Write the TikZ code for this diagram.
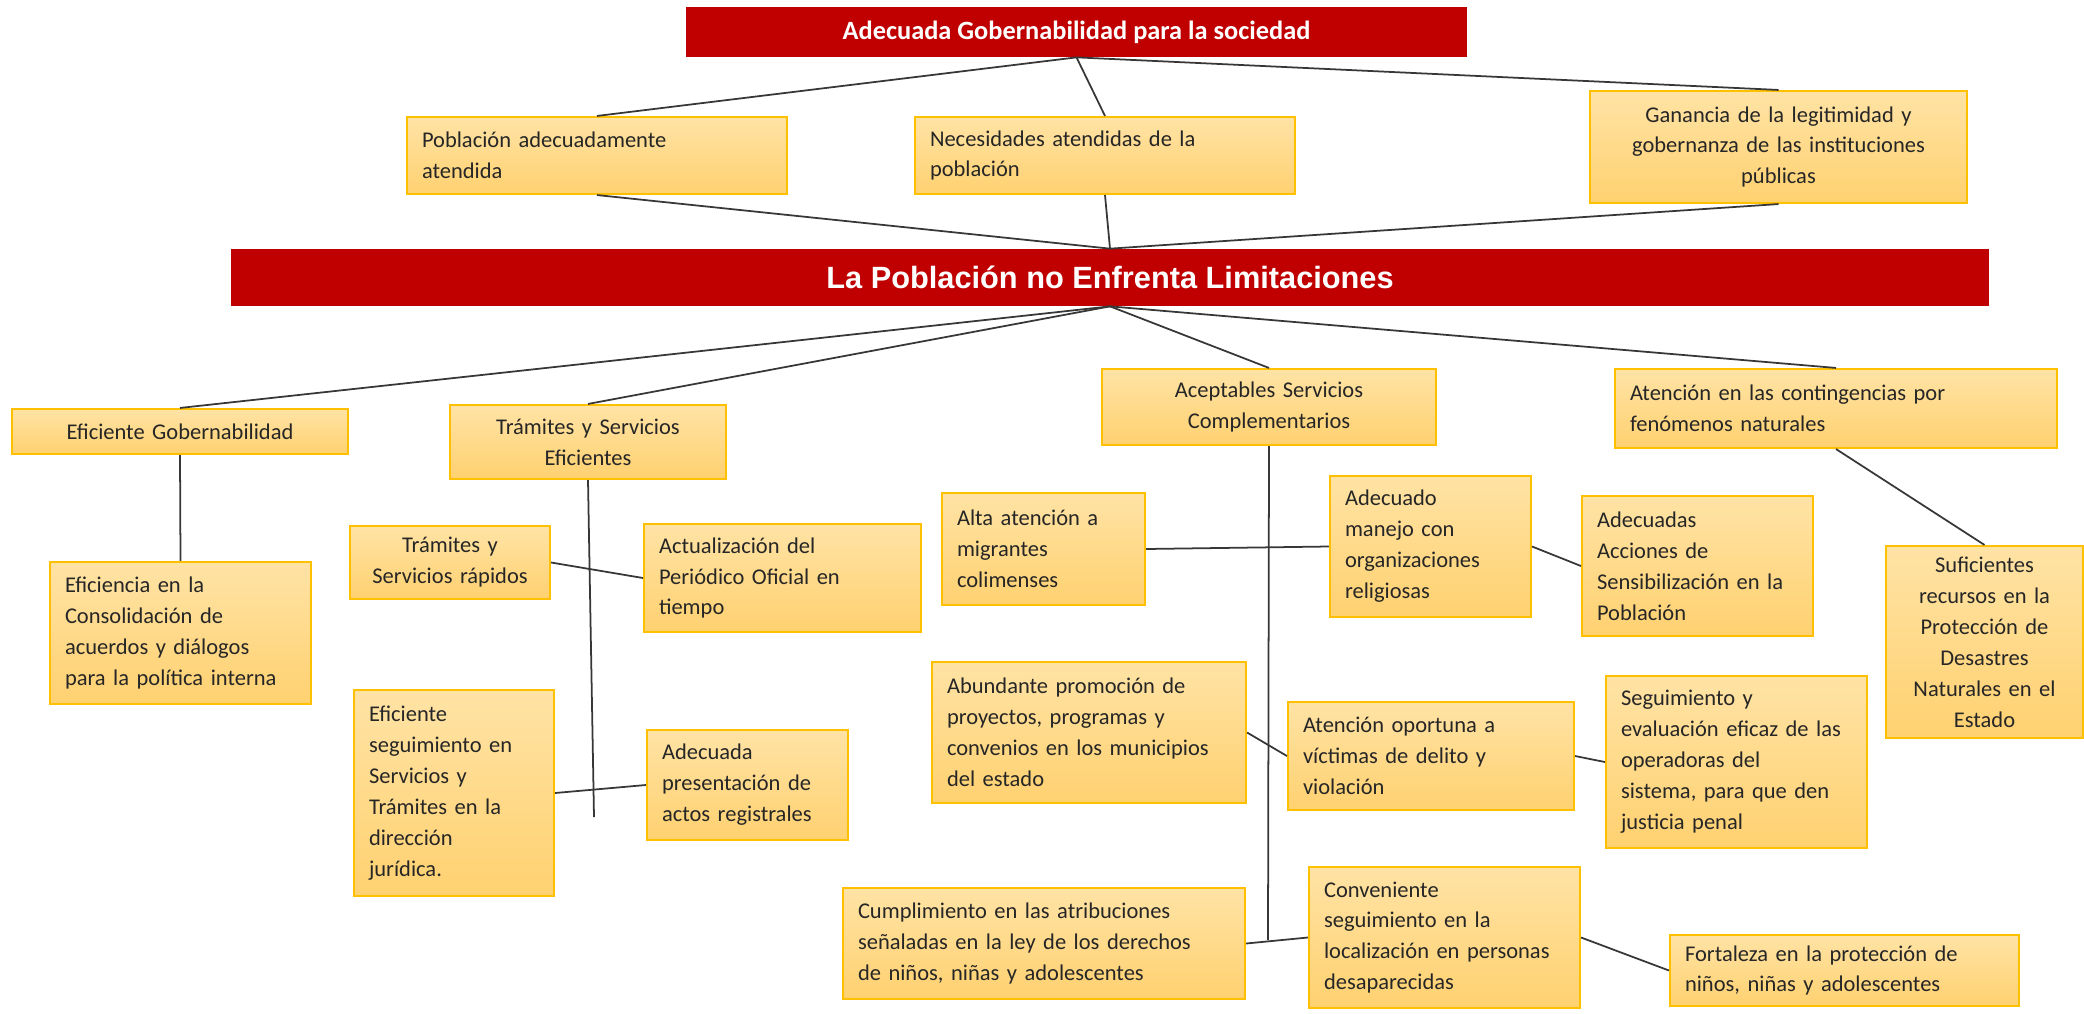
\documentclass[tikz,border=0pt]{standalone}
\usepackage{fontspec}
\setmainfont{Carlito}
\newfontfamily\arialfont{Liberation Sans}
\usepackage{xcolor}
\usepackage{tikz}
\definecolor{ArRed}{RGB}{192,0,0}
\definecolor{ArGold}{RGB}{255,192,0}
\definecolor{ArTop}{RGB}{255,227,165}
\definecolor{ArBot}{RGB}{255,209,112}
\definecolor{ArLine}{RGB}{55,55,55}

\begin{document}
\begin{tikzpicture}[
            bar/.style={rectangle, fill=ArRed, text=white, inner sep=0pt},
            bx/.style={rectangle, draw=ArGold, line width=1.2pt,
                       top color=ArTop, bottom color=ArBot, inner xsep=0.3cm,
                       inner ysep=0pt, text=black!85,
                       font=\fontsize{12.8}{17.6}\selectfont},
            bxl/.style={bx, align=left},
            bxc/.style={bx, align=center},
            ln/.style={draw=ArLine, line width=1pt}
          ]
          \useasboundingbox (0,0) rectangle (41.68,-20.26);

          % fines
          \node[bar, minimum width=15.62cm, minimum height=1cm,
                font=\bfseries\fontsize{15}{18}\selectfont]
                (gob) at (21.53,-0.64) {Adecuada Gobernabilidad para la sociedad};
          \node[bxl, text width=7cm, minimum height=1.54cm]
                (pob) at (11.94,-3.11) {Población adecuadamente\\atendida};
          \node[bxl, text width=7cm, minimum height=1.54cm]
                (nec) at (22.1,-3.11) {Necesidades atendidas de la\\población};
          \node[bxc, text width=6.94cm, minimum height=2.24cm]
                (gan) at (35.57,-2.94) {Ganancia de la legitimidad y\\gobernanza de las instituciones\\públicas};
          \draw[ln] (gob.south)--(pob.north); \draw[ln] (gob.south)--(nec.north);
          \draw[ln] (gob.south)--(gan.north);

          % objetivo central
          \node[bar, minimum width=35.16cm, minimum height=1.14cm,
                font=\arialfont\bfseries\fontsize{17.5}{20}\selectfont]
                (lim) at (22.2,-5.55) {La Población no Enfrenta Limitaciones};
          \draw[ln] (pob.south)--(lim.north); \draw[ln] (nec.south)--(lim.north);
          \draw[ln] (gan.south)--(lim.north);

          % medios
          \node[bxc, text width=6.12cm, minimum height=0.9cm]
                (efg) at (3.6,-8.63) {Eficiente Gobernabilidad};
          \node[bxc, text width=4.92cm, minimum height=1.48cm]
                (tse) at (11.76,-8.84) {Trámites y Servicios\\Eficientes};
          \node[bxc, text width=6.08cm, minimum height=1.52cm]
                (asc) at (25.38,-8.14) {Aceptables Servicios\\Complementarios};
          \node[bxl, text width=8.24cm, minimum height=1.58cm]
                (acn) at (36.72,-8.17) {Atención en las contingencias por\\fenómenos naturales};
          \draw[ln] (lim.south)--(efg.north); \draw[ln] (lim.south)--(tse.north);
          \draw[ln] (lim.south)--(asc.north); \draw[ln] (lim.south)--(acn.north);

          % Eficiente Gobernabilidad
          \node[bxl, text width=4.62cm, minimum height=2.84cm]
                (ecd) at (3.61,-12.66) {Eficiencia en la\\Consolidación de\\acuerdos y diálogos\\para la política interna};
          \draw[ln] (efg.south)--(ecd.north);

          % Tramites y Servicios
          \node[bxc, text width=3.4cm, minimum height=1.46cm]
                (tsr) at (9,-11.25) {Trámites y\\Servicios rápidos};
          \node[bxl, text width=4.94cm, minimum height=2.16cm]
                (apo) at (15.65,-11.56) {Actualización del\\Periódico Oficial en\\tiempo};
          \node[bxl, text width=3.4cm, minimum height=4.12cm]
                (esj) at (9.08,-15.86) {Eficiente\\seguimiento en\\Servicios y\\Trámites en la\\dirección\\jurídica.};
          \node[bxl, text width=3.42cm, minimum height=2.2cm]
                (apr) at (14.95,-15.7) {Adecuada\\presentación de\\actos registrales};
          \coordinate (tend) at (11.88,-16.34);
          \draw[ln] (tse.south)--(tend);
          \draw[ln] (tsr.east)--(apo.west); \draw[ln] (esj.east)--(apr.west);

          % Servicios Complementarios
          \node[bxl, text width=3.46cm, minimum height=2.24cm]
                (aam) at (20.87,-10.98) {Alta atención a\\migrantes\\colimenses};
          \node[bxl, text width=3.42cm, minimum height=2.82cm]
                (amr) at (28.61,-10.93) {Adecuado\\manejo con\\organizaciones\\religiosas};
          \node[bxl, text width=4.02cm, minimum height=2.8cm]
                (aas) at (33.95,-11.32) {Adecuadas\\Acciones de\\Sensibilización en la\\Población};
          \node[bxl, text width=5.68cm, minimum height=2.82cm]
                (apm) at (21.78,-14.65) {Abundante promoción de\\proyectos, programas y\\convenios en los municipios\\del estado};
          \node[bxl, text width=5.12cm, minimum height=2.16cm]
                (aov) at (28.62,-15.12) {Atención oportuna a\\víctimas de delito y\\violación};
          \node[bxl, text width=4.62cm, minimum height=3.44cm]
                (sep) at (34.73,-15.24) {Seguimiento y\\evaluación eficaz de las\\operadoras del\\sistema, para que den\\justicia penal};
          \node[bxl, text width=7.44cm, minimum height=2.22cm]
                (cum) at (20.88,-18.87) {Cumplimiento en las atribuciones\\señaladas en la ley de los derechos\\de niños, niñas y adolescentes};
          \node[bxl, text width=4.82cm, minimum height=2.82cm]
                (cvl) at (28.89,-18.75) {Conveniente\\seguimiento en la\\localización en personas\\desaparecidas};
          \node[bxl, text width=6.38cm, minimum height=1.42cm]
                (fpn) at (36.89,-19.41) {Fortaleza en la protección de\\niños, niñas y adolescentes};
          \coordinate (aend) at (25.36,-18.8);
          \draw[ln] (asc.south)--(aend);
          \draw[ln] (aam.east)--(amr.west); \draw[ln] (amr.east)--(aas.west);
          \draw[ln] (apm.east)--(aov.west); \draw[ln] (aov.east)--(sep.west);
          \draw[ln] (cum.east)--(cvl.west); \draw[ln] (cvl.east)--(fpn.west);

          % contingencias
          \node[bxc, text width=3.34cm, minimum height=3.84cm]
                (srp) at (39.69,-12.84) {Suficientes\\recursos en la\\Protección de\\Desastres\\Naturales en el\\Estado};
          \draw[ln] (acn.south)--(srp.north);
        \end{tikzpicture}
\end{document}
